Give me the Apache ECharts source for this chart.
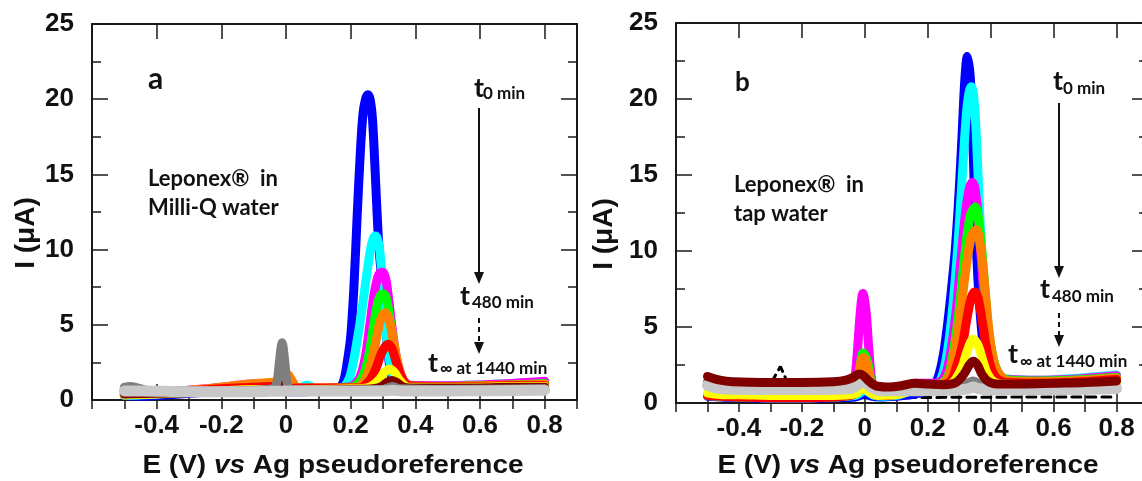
<!DOCTYPE html>
<html>
<head>
<meta charset="utf-8">
<script src="https://cdn.jsdelivr.net/npm/echarts@6/dist/echarts.min.js"></script>
<style>
  html, body { margin: 0; padding: 0; background: #fff; }
  #chart { width: 1142px; height: 481px; }
</style>
</head>
<body>
<div id="chart"></div>
<script>
// Square-wave voltammograms: current I (µA) against E (V) vs Ag pseudoreference.
// Each trace is a list of [E, I] pairs.

// ---- panel a: Leponex in Milli-Q water ----
const a_blue = [[-0.5,0.3],[-0.45,0.25],[-0.4,0.3],[-0.3,0.45],[-0.2,0.6],[-0.1,0.7],[-0.05,0.7],[0,0.55],[0.05,0.55],[0.1,0.6],[0.15,0.7],[0.17,0.9],[0.18,1.4],[0.19,2.6],[0.2,4.2],[0.21,7.5],[0.22,12.2],[0.23,16.5],[0.238,19.0],[0.246,20.0],[0.253,20.3],[0.26,20.0],[0.267,18.8],[0.274,16.0],[0.28,13.2],[0.287,10.3],[0.295,8.3],[0.303,6.3],[0.31,4.5],[0.318,2.7],[0.328,1.5],[0.345,1.0],[0.4,0.85],[0.5,0.85],[0.6,0.9],[0.7,0.95],[0.8,1.05]];
const a_cyan = [[-0.5,0.3],[-0.4,0.4],[-0.3,0.6],[-0.2,0.8],[-0.1,0.9],[-0.05,0.85],[0,0.7],[0.04,0.75],[0.065,1.0],[0.09,0.75],[0.12,0.7],[0.16,0.75],[0.18,0.9],[0.195,1.4],[0.207,2.4],[0.218,3.7],[0.228,5.0],[0.24,6.8],[0.252,8.7],[0.263,10.2],[0.27,10.75],[0.276,10.9],[0.282,10.75],[0.289,10.1],[0.296,8.5],[0.304,6.0],[0.313,3.8],[0.324,2.2],[0.338,1.3],[0.36,1.0],[0.45,0.95],[0.6,1.0],[0.7,1.1],[0.8,1.2]];
const a_magenta = [[-0.5,0.35],[-0.4,0.45],[-0.3,0.65],[-0.2,0.85],[-0.12,1.05],[-0.07,1.1],[-0.04,1.0],[0,0.8],[0.05,0.75],[0.1,0.75],[0.15,0.8],[0.2,0.9],[0.22,1.2],[0.235,1.9],[0.248,3.2],[0.26,5.1],[0.272,7.0],[0.284,8.2],[0.291,8.45],[0.297,8.5],[0.303,8.4],[0.31,7.9],[0.318,6.6],[0.328,4.8],[0.34,3.0],[0.355,1.7],[0.37,1.15],[0.39,0.95],[0.5,0.95],[0.6,1.0],[0.7,1.1],[0.8,1.25]];
const a_green = [[-0.5,0.35],[-0.4,0.45],[-0.3,0.6],[-0.2,0.8],[-0.1,0.95],[-0.05,0.95],[0,0.8],[0.05,0.75],[0.1,0.75],[0.15,0.8],[0.21,0.9],[0.23,1.3],[0.245,2.0],[0.258,3.2],[0.27,4.8],[0.282,6.3],[0.292,6.95],[0.302,7.05],[0.311,6.7],[0.322,5.3],[0.333,3.8],[0.345,2.4],[0.36,1.4],[0.375,1.0],[0.4,0.9],[0.5,0.9],[0.6,0.95],[0.7,1.0],[0.8,1.1]];
const a_orange = [[-0.5,0.4],[-0.4,0.5],[-0.3,0.65],[-0.2,0.85],[-0.12,1.05],[-0.06,1.15],[-0.03,1.2],[-0.01,1.4],[0.005,1.7],[0.018,1.3],[0.035,0.85],[0.06,0.8],[0.1,0.8],[0.15,0.8],[0.22,0.85],[0.24,1.2],[0.255,1.9],[0.268,2.9],[0.28,4.1],[0.292,5.3],[0.306,5.8],[0.318,5.4],[0.33,4.2],[0.342,2.8],[0.355,1.7],[0.37,1.1],[0.39,0.9],[0.5,0.9],[0.6,0.95],[0.7,1.0],[0.8,1.05]];
const a_red = [[-0.5,0.35],[-0.4,0.45],[-0.3,0.6],[-0.2,0.75],[-0.1,0.85],[-0.05,0.9],[0,0.75],[0.05,0.8],[0.1,0.8],[0.17,0.8],[0.23,0.8],[0.25,1.1],[0.265,1.5],[0.28,2.2],[0.293,3.0],[0.305,3.5],[0.316,3.7],[0.328,3.4],[0.34,2.6],[0.352,1.8],[0.365,1.2],[0.38,0.95],[0.5,0.9],[0.6,0.9],[0.7,0.95],[0.8,0.95]];
const a_yellow = [[-0.5,0.35],[-0.4,0.4],[-0.3,0.5],[-0.2,0.6],[-0.1,0.7],[0,0.65],[0.1,0.7],[0.2,0.75],[0.25,0.8],[0.27,1.0],[0.29,1.4],[0.305,1.85],[0.32,2.05],[0.335,1.85],[0.35,1.35],[0.365,1.0],[0.38,0.85],[0.5,0.85],[0.6,0.85],[0.7,0.9],[0.8,0.9]];
const a_maroon = [[-0.5,0.4],[-0.4,0.45],[-0.2,0.55],[-0.05,0.6],[-0.015,0.75],[-0.008,1.0],[0,0.65],[0.1,0.65],[0.2,0.7],[0.27,0.75],[0.295,0.9],[0.315,1.2],[0.327,1.3],[0.34,1.2],[0.36,0.9],[0.38,0.8],[0.5,0.8],[0.6,0.8],[0.7,0.85],[0.8,0.85]];
const a_darkgray = [[-0.5,0.85],[-0.48,0.9],[-0.45,0.75],[-0.42,0.6],[-0.3,0.6],[-0.2,0.6],[-0.1,0.65],[-0.04,0.75],[-0.028,1.2],[-0.02,2.6],[-0.012,3.8],[-0.004,2.6],[0.004,1.1],[0.015,0.7],[0.1,0.65],[0.2,0.65],[0.3,0.7],[0.33,0.9],[0.35,0.75],[0.5,0.7],[0.8,0.75]];
const a_lightgray = [[-0.5,0.6],[-0.45,0.6],[-0.3,0.55],[-0.1,0.55],[0,0.6],[0.1,0.6],[0.3,0.6],[0.33,0.65],[0.36,0.6],[0.5,0.6],[0.65,0.62],[0.8,0.65]];

// ---- panel b: Leponex in tap water ----
const b_dashed = [[-0.5,0.35],[-0.31,0.35],[-0.29,1.6],[-0.268,2.4],[-0.255,1.8],[-0.24,0.9],[-0.22,0.35],[0.1,0.35],[0.3,0.38],[0.8,0.4]];
const b_blue = [[-0.5,0.45],[-0.4,0.35],[-0.3,0.3],[-0.2,0.3],[-0.1,0.35],[-0.03,0.4],[0,0.6],[0.02,0.45],[0.05,0.4],[0.1,0.45],[0.15,0.55],[0.2,0.8],[0.22,1.1],[0.235,1.8],[0.25,3.2],[0.265,5.5],[0.278,8.0],[0.288,10.2],[0.3,14],[0.31,18],[0.318,21.3],[0.326,22.8],[0.335,21.5],[0.342,18],[0.35,13],[0.36,8],[0.375,4],[0.39,2.2],[0.41,1.6],[0.45,1.45],[0.55,1.4],[0.65,1.5],[0.8,1.7]];
const b_cyan = [[-0.5,0.5],[-0.4,0.4],[-0.3,0.35],[-0.2,0.35],[-0.1,0.4],[-0.03,0.5],[0,0.8],[0.03,0.5],[0.06,0.45],[0.1,0.5],[0.16,0.9],[0.22,1.1],[0.24,1.5],[0.255,2.5],[0.27,4.5],[0.285,7.5],[0.298,11],[0.31,15],[0.322,18.8],[0.331,20.4],[0.339,20.8],[0.346,20.2],[0.353,18.2],[0.362,14],[0.372,9.5],[0.385,5.5],[0.4,3],[0.42,1.9],[0.45,1.6],[0.55,1.5],[0.65,1.6],[0.8,1.85]];
const b_magenta = [[-0.5,0.5],[-0.4,0.4],[-0.3,0.35],[-0.2,0.35],[-0.1,0.4],[-0.05,0.6],[-0.035,1.2],[-0.025,3.0],[-0.015,5.8],[-0.006,7.2],[0.004,6.0],[0.013,3.5],[0.022,1.5],[0.035,0.6],[0.06,0.5],[0.1,0.6],[0.16,1.3],[0.22,1.3],[0.25,1.6],[0.27,3],[0.29,6],[0.305,9.3],[0.32,12.5],[0.333,14.2],[0.342,14.5],[0.35,14.1],[0.359,12.5],[0.37,9.5],[0.383,6],[0.4,3.2],[0.42,1.9],[0.45,1.55],[0.55,1.5],[0.65,1.55],[0.8,1.8]];
const b_green = [[-0.5,0.5],[-0.4,0.4],[-0.3,0.35],[-0.2,0.35],[-0.1,0.4],[-0.04,0.6],[-0.02,1.8],[-0.005,3.3],[0.01,2.6],[0.025,1.0],[0.05,0.5],[0.1,0.6],[0.16,1.2],[0.22,1.2],[0.26,1.6],[0.28,3.2],[0.3,6.2],[0.318,9.8],[0.335,12.3],[0.351,12.9],[0.365,11.5],[0.378,8.5],[0.392,5],[0.41,2.8],[0.43,1.8],[0.46,1.5],[0.55,1.45],[0.65,1.5],[0.8,1.7]];
const b_orange = [[-0.5,0.55],[-0.4,0.45],[-0.3,0.4],[-0.2,0.4],[-0.1,0.45],[-0.04,0.7],[-0.025,1.5],[-0.012,2.7],[-0.004,3.0],[0.006,2.6],[0.018,1.4],[0.03,0.7],[0.06,0.5],[0.1,0.6],[0.16,1.2],[0.22,1.2],[0.26,1.5],[0.28,2.8],[0.3,5.3],[0.32,8.6],[0.338,10.9],[0.354,11.4],[0.368,10.2],[0.382,7.5],[0.396,4.5],[0.413,2.5],[0.435,1.7],[0.46,1.45],[0.55,1.4],[0.65,1.45],[0.8,1.65]];
const b_red = [[-0.5,0.5],[-0.4,0.4],[-0.3,0.35],[-0.2,0.35],[-0.1,0.4],[-0.03,0.6],[-0.005,1.4],[0.015,0.8],[0.04,0.5],[0.1,0.55],[0.16,1.1],[0.22,1.1],[0.27,1.4],[0.29,2.3],[0.31,3.8],[0.325,5.6],[0.338,6.9],[0.349,7.3],[0.36,6.9],[0.373,5.4],[0.388,3.5],[0.403,2.2],[0.42,1.6],[0.45,1.35],[0.55,1.3],[0.65,1.35],[0.8,1.55]];
const b_yellow = [[-0.5,0.65],[-0.45,0.55],[-0.4,0.55],[-0.3,0.5],[-0.2,0.5],[-0.1,0.5],[-0.03,0.6],[-0.005,1.0],[0.015,0.7],[0.04,0.5],[0.1,0.55],[0.16,0.9],[0.22,1.0],[0.27,1.2],[0.29,1.6],[0.31,2.4],[0.325,3.4],[0.345,4.2],[0.36,3.8],[0.375,2.8],[0.39,1.9],[0.41,1.4],[0.44,1.25],[0.55,1.2],[0.65,1.25],[0.8,1.4]];
const b_darkgray = [[-0.5,1.4],[-0.46,1.2],[-0.4,1.1],[-0.3,1.05],[-0.2,1.05],[-0.1,1.1],[-0.05,1.2],[-0.02,1.55],[-0.005,1.65],[0.015,1.3],[0.04,1.0],[0.1,0.95],[0.16,1.1],[0.25,1.05],[0.3,1.15],[0.33,1.35],[0.345,1.45],[0.36,1.3],[0.39,1.05],[0.5,1.0],[0.65,1.0],[0.8,1.1]];
const b_lightgray = [[-0.5,1.15],[-0.46,0.95],[-0.4,0.9],[-0.3,0.88],[-0.2,0.88],[-0.1,0.9],[-0.04,0.98],[-0.015,1.3],[0,1.35],[0.02,1.05],[0.05,0.8],[0.1,0.8],[0.2,0.82],[0.3,0.85],[0.33,0.95],[0.345,1.05],[0.36,0.95],[0.4,0.85],[0.5,0.85],[0.65,0.88],[0.8,0.95]];
const b_maroon = [[-0.5,1.75],[-0.46,1.5],[-0.42,1.4],[-0.3,1.35],[-0.2,1.35],[-0.1,1.4],[-0.06,1.5],[-0.035,1.7],[-0.02,1.9],[-0.005,1.8],[0.015,1.4],[0.04,1.1],[0.08,1.05],[0.12,1.15],[0.16,1.3],[0.2,1.25],[0.25,1.2],[0.29,1.35],[0.315,1.9],[0.332,2.5],[0.345,2.75],[0.358,2.5],[0.372,1.9],[0.39,1.45],[0.42,1.25],[0.5,1.25],[0.6,1.3],[0.7,1.35],[0.8,1.45]];

// ---- axis tick labels ----
const xTickLabels = ['-0.4', '-0.2', '0', '0.2', '0.4', '0.6', '0.8'];
const yTickLabels = ['0', '5', '10', '15', '20', '25'];

// trace colours, drawn back to front
const COLORS = {
  blue: '#0000ff', cyan: '#00ffff', magenta: '#ff00ff', green: '#00ff00',
  orange: '#ff8000', red: '#ff0000', yellow: '#ffff00', maroon: '#800000',
  darkgray: '#7f7f7f', lightgray: '#c8c8c8', black: '#000000'
};

const tracesA = [
  [a_blue, 'blue'], [a_cyan, 'cyan'], [a_magenta, 'magenta'], [a_green, 'green'],
  [a_orange, 'orange'], [a_red, 'red'], [a_yellow, 'yellow'], [a_maroon, 'maroon'],
  [a_darkgray, 'darkgray'], [a_lightgray, 'lightgray']
];
const tracesB = [
  [b_blue, 'blue'], [b_cyan, 'cyan'], [b_magenta, 'magenta'], [b_green, 'green'],
  [b_orange, 'orange'], [b_red, 'red'], [b_yellow, 'yellow'],
  [b_darkgray, 'darkgray'], [b_lightgray, 'lightgray'], [b_maroon, 'maroon']
];

const AXIS_COLOR = '#1a1a1a';
const LABEL_FONT = { fontFamily: 'Liberation Sans', fontWeight: 'bold', fontSize: 26, color: '#111' };

function fmt(v) {
  const r = Math.round(v * 10) / 10;
  return r === 0 ? '0' : String(r);
}

function xAxesFor(grid) {
  const base = { gridIndex: grid, type: 'value', min: -0.6, max: 0.9, splitLine: { show: false } };
  const line = { show: true, onZero: false, lineStyle: { color: AXIS_COLOR, width: 2 } };
  const tick = (len) => ({ show: true, inside: true, length: len, lineStyle: { color: AXIS_COLOR, width: 1.5 } });
  return [
    { ...base, position: 'bottom', interval: 0.2, axisLine: line, axisTick: tick(16),
      axisLabel: { ...LABEL_FONT, margin: 13,
        formatter: (v) => xTickLabels.includes(fmt(v)) ? fmt(v) : '' } },
    { ...base, position: 'bottom', interval: 0.1, axisLine: { show: false }, axisTick: tick(9), axisLabel: { show: false } },
    { ...base, position: 'top', interval: 0.2, axisLine: line, axisTick: tick(15), axisLabel: { show: false } },
    { ...base, position: 'top', interval: 0.1, axisLine: { show: false }, axisTick: tick(9), axisLabel: { show: false } }
  ];
}

function yAxesFor(grid) {
  const base = { gridIndex: grid, type: 'value', min: 0, max: 25, interval: 5, splitLine: { show: false },
    axisLine: { show: true, onZero: false, lineStyle: { color: AXIS_COLOR, width: 2 } },
    axisTick: { show: true, inside: true, length: 16, lineStyle: { color: AXIS_COLOR, width: 1.5 } },
    minorTick: { show: true, splitNumber: 2, length: 9, lineStyle: { color: AXIS_COLOR, width: 1.5 } } };
  return [
    { ...base, position: 'left',
      axisLabel: { ...LABEL_FONT, margin: 18,
        formatter: (v) => yTickLabels.includes(String(v)) ? String(v) : '' } },
    { ...base, position: 'right', axisLabel: { show: false } }
  ];
}

function traceSeries(list, xIdx, yIdx) {
  return list.map(([data, c]) => ({
    type: 'line', xAxisIndex: xIdx, yAxisIndex: yIdx, data,
    symbol: 'none', showSymbol: false, smooth: 0.35, silent: true,
    lineStyle: { color: COLORS[c], width: c === 'lightgray' ? 11 : 9, cap: 'round', join: 'round' }
  }));
}

const dashedB = {
  type: 'line', xAxisIndex: 4, yAxisIndex: 2, data: b_dashed,
  symbol: 'none', showSymbol: false, smooth: false, silent: true,
  lineStyle: { color: COLORS.black, width: 3, type: [9, 6], cap: 'round' }
};

// text helpers for the annotations
const NOTE_FONT = 'Lato';
function note(x, y, text, size) {
  return { type: 'text', x, y, silent: true,
    style: { text, fill: '#111', fontFamily: NOTE_FONT, fontWeight: 'bold', fontSize: size,
      align: 'left', textAlign: 'left', verticalAlign: 'middle', textVerticalAlign: 'middle' } };
}
function arrow(x, y0, y1, dashed) {
  return [
    { type: 'line', silent: true, shape: { x1: x, y1: y0, x2: x, y2: y1 - 10 },
      style: { stroke: '#111', lineWidth: 2, lineDash: dashed ? [5, 4] : null } },
    { type: 'polygon', silent: true, shape: { points: [[x - 5, y1 - 12], [x + 5, y1 - 12], [x, y1]] },
      style: { fill: '#111' } }
  ];
}
function xTitle(cx, cy) {
  return { type: 'text', x: cx, y: cy, scaleX: 1.12, silent: true,
    style: { text: '{n|E (V) }{i|vs}{n| Ag pseudoreference}', align: 'center', textAlign: 'center',
      verticalAlign: 'middle', textVerticalAlign: 'middle',
      rich: {
        n: { fontFamily: 'Liberation Sans', fontWeight: 'bold', fontSize: 25, fill: '#111' },
        i: { fontFamily: 'Liberation Sans', fontWeight: 'bold', fontStyle: 'italic', fontSize: 25, fill: '#111' }
      } } };
}
function yTitle(cx, cy) {
  return { type: 'text', x: cx, y: cy, rotation: Math.PI / 2, silent: true,
    style: { text: 'I (\u03bcA)', fill: '#111', fontFamily: 'Liberation Sans', fontWeight: 'bold', fontSize: 28,
      align: 'center', textAlign: 'center', verticalAlign: 'middle', textVerticalAlign: 'middle' } };
}

const option = {
  backgroundColor: '#fff',
  animation: false,
  grid: [
    { left: 92, top: 24, width: 485, height: 376, outerBoundsMode: 'none' },
    { left: 676, top: 23, width: 472, height: 380, outerBoundsMode: 'none' }
  ],
  xAxis: [...xAxesFor(0), ...xAxesFor(1)],
  yAxis: [...yAxesFor(0), ...yAxesFor(1)],
  series: [
    ...traceSeries(tracesA, 0, 0),
    dashedB,
    ...traceSeries(tracesB, 4, 2)
  ],
  graphic: [
    yTitle(26, 233), yTitle(604, 234),
    xTitle(333, 466), xTitle(908, 466),
    // panel a
    note(148, 79, 'a', 30),
    note(148, 179, 'Leponex\u00ae  in', 22),
    note(148, 208, 'Milli-Q water', 22),
    note(474, 88, 't', 27), note(483, 94, '0 min', 17),
    ...arrow(479, 108, 284, false),
    note(460, 296, 't', 27), note(472, 303, '480 min', 17),
    ...arrow(479, 318, 354, true),
    note(428, 363, 't', 27), note(440, 369, '\u221e at 1440 min', 17),
    // panel b
    note(735, 83, 'b', 26),
    note(734, 185, 'Leponex\u00ae  in', 22),
    note(734, 214, 'tap water', 22),
    note(1053, 81, 't', 27), note(1063, 89, '0 min', 17),
    ...arrow(1059, 103, 278, false),
    note(1040, 289, 't', 27), note(1052, 297, '480 min', 17),
    ...arrow(1059, 313, 347, true),
    note(1008, 354, 't', 27), note(1020, 362, '\u221e at 1440 min', 17)
  ]
};

const chart = echarts.init(document.getElementById('chart'), null, { renderer: 'canvas' });
chart.setOption(option);
</script>
</body>
</html>
